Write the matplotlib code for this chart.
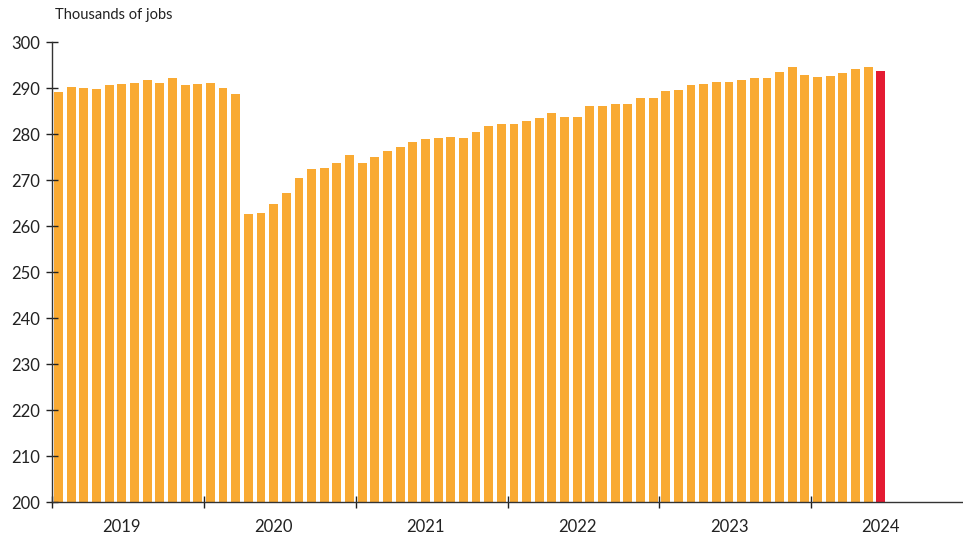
import matplotlib
matplotlib.use("Agg")
import matplotlib.pyplot as plt
import numpy as np

years = ["2019", "2020", "2021", "2022", "2023", "2024"]
values_2019 = [289.2, 290.2, 290.1, 289.9, 290.7, 290.9, 291.2, 291.7, 291.2, 292.2, 290.7, 290.9]
values_2020 = [291.2, 290.0, 288.7, 262.7, 262.9, 264.9, 267.2, 270.6, 272.5, 272.7, 273.7, 275.4]
values_2021 = [273.7, 275.1, 276.4, 277.2, 278.3, 279.0, 279.2, 279.4, 279.3, 280.6, 281.9, 282.2]
values_2022 = [282.3, 283.0, 283.6, 284.7, 283.8, 283.8, 286.1, 286.2, 286.6, 286.5, 287.8, 287.9]
values_2023 = [289.4, 289.7, 290.7, 291.0, 291.4, 291.3, 291.7, 292.3, 292.3, 293.5, 294.7, 292.9]
values_2024 = [292.5, 292.7, 293.3, 294.1, 294.6, 293.8]
yticks = [200, 210, 220, 230, 240, 250, 260, 270, 280, 290, 300]

values = values_2019 + values_2020 + values_2021 + values_2022 + values_2023 + values_2024
n = len(values)
x = np.arange(n)

orange = "#F9AA33"
red = "#E41B32"
colors = [orange] * (n - 1) + [red]

plt.rcParams['font.family'] = ['Lato', 'DejaVu Sans']

fig = plt.figure(figsize=(9.63, 5.35), dpi=100)
ax = fig.add_axes([0.0543, 0.0611, 0.9457, 0.8598])

ax.bar(x, [v - 200 for v in values], bottom=200, width=0.7, color=colors, linewidth=0)

ax.set_xlim(-0.5, 71.5)
ax.set_ylim(200, 300)
ax.set_yticks(yticks)
ax.set_yticklabels([str(t) for t in yticks], fontsize=12, color="#222222")

ax.set_xticks([-0.5 + 12 * k for k in range(len(years))])
ax.set_xticklabels([])
ax.set_xticks([5 + 12 * k for k in range(len(years))], minor=True)
ax.set_xticklabels(years, minor=True, fontsize=12, color="#222222")
ax.tick_params(axis="x", which="minor", length=0, pad=12)
ax.tick_params(axis="x", which="major", direction="inout", length=9, width=1.0, color="#222222")
ax.tick_params(axis="y", direction="inout", length=9, width=1.0, color="#222222", pad=4)

for s in ["top", "right"]:
    ax.spines[s].set_visible(False)
ax.spines["left"].set_color("#333333")
ax.spines["bottom"].set_color("#333333")
ax.spines["left"].set_linewidth(1.0)
ax.spines["bottom"].set_linewidth(1.0)

fig.text(0.057, 0.985, "Thousands of jobs", fontsize=10.5, color="#222222", ha="left", va="top")

fig.savefig("out.png", dpi=100)
